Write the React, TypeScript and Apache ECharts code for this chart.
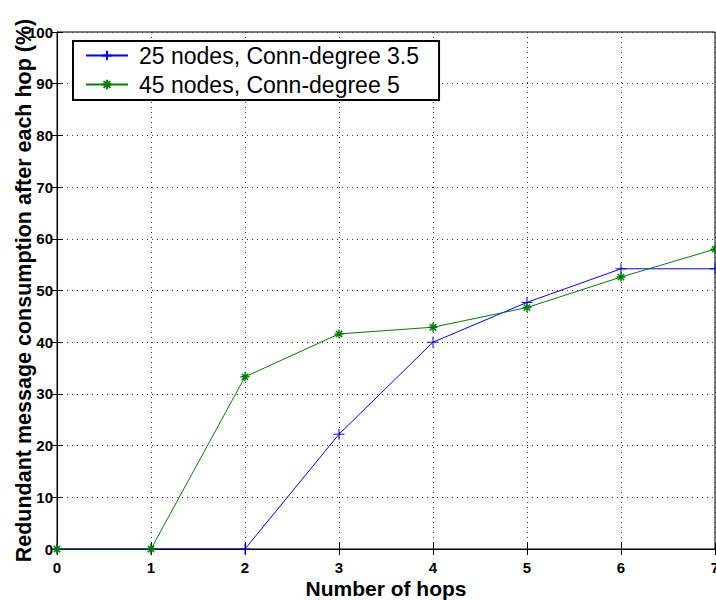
import React, { useEffect, useRef } from "react";
import * as echarts from "echarts";

const hops = [0, 1, 2, 3, 4, 5, 6, 7];
const nodes25 = [0, 0, 0, 22.2, 40.0, 47.7, 54.2, 54.2];
const nodes45 = [0, 0, 33.3, 41.6, 42.9, 46.7, 52.6, 58.0];
const seriesNames = ["25 nodes, Conn-degree 3.5", "45 nodes, Conn-degree 5"];

const FONT = "Liberation Sans, Arial, Helvetica, sans-serif";
const plusPath = "path://M5,0L5,10M0,5L10,5";
const starPath = "path://M5,0L5,10M0,5L10,5M1.5,1.5L8.5,8.5M8.5,1.5L1.5,8.5";

export default function App() {
  const ref = useRef<HTMLDivElement>(null);
  useEffect(() => {
    if (!ref.current) return;
    const chart = echarts.init(ref.current, undefined, { renderer: "svg" });
    const gridLine = { show: true, lineStyle: { color: "#333", type: [1, 4] as any, width: 1 } };
    chart.setOption({
      animation: false,
      backgroundColor: "#fff",
      grid: {
        left: 57, right: 1, top: 32, bottom: 51,
        containLabel: false, outerBoundsMode: "none",
        show: true, borderColor: "#000", borderWidth: 1, backgroundColor: "transparent",
      },
      legend: {
        orient: "vertical",
        left: 73,
        top: 41,
        padding: [3, 20, 4, 12],
        itemGap: 6,
        itemWidth: 42,
        itemHeight: 12,
        backgroundColor: "#fff",
        borderColor: "#000",
        borderWidth: 2,
        textStyle: { fontFamily: FONT, fontSize: 23, color: "#000", padding: [0, 0, 0, 6] },
        data: seriesNames,
      },
      xAxis: [
        {
          type: "value",
          min: 0,
          max: 7,
          interval: 1,
          name: "Number of hops",
          nameLocation: "middle",
          nameMoveOverlap: false,
          nameGap: 29,
          nameTextStyle: { fontFamily: FONT, fontWeight: "bold", fontSize: 21, color: "#000", verticalAlign: "top" },
          axisLine: { show: true, onZero: false, lineStyle: { color: "#000" } },
          axisTick: { show: true, inside: true, length: 6, lineStyle: { color: "#000" } },
          axisLabel: { fontFamily: FONT, fontWeight: "bold", fontSize: 15, color: "#000", margin: 11 },
          splitLine: gridLine,
        },
        {
          type: "value",
          position: "top",
          min: 0,
          max: 7,
          interval: 1,
          axisLine: { show: true, lineStyle: { color: "#000" } },
          axisTick: { show: true, inside: true, length: 6, lineStyle: { color: "#000" } },
          axisLabel: { show: false },
          splitLine: { show: false },
        },
      ],
      yAxis: [
        {
          type: "value",
          min: 0,
          max: 100,
          interval: 10,
          name: "Redundant message consumption after each hop (%)",
          nameLocation: "middle",
          nameMoveOverlap: false,
          nameGap: 22,
          nameTextStyle: { fontFamily: FONT, fontWeight: "bold", fontSize: 21.5, color: "#000" },
          axisLine: { show: true, onZero: false, lineStyle: { color: "#000" } },
          axisTick: { show: true, inside: true, length: 6, lineStyle: { color: "#000" } },
          axisLabel: { fontFamily: FONT, fontWeight: "bold", fontSize: 15, color: "#000", margin: 4 },
          splitLine: gridLine,
        },
        {
          type: "value",
          position: "right",
          min: 0,
          max: 100,
          interval: 10,
          axisLine: { show: true, lineStyle: { color: "#000" } },
          axisTick: { show: true, inside: true, length: 6, lineStyle: { color: "#000" } },
          axisLabel: { show: false },
          splitLine: { show: false },
        },
      ],
      series: [
        {
          name: seriesNames[0],
          type: "line",
          data: hops.map((h, i) => [h, nodes25[i]]),
          color: "#0000ff",
          lineStyle: { color: "#0000ff", width: 1 },
          symbol: plusPath,
          symbolSize: 11,
          showSymbol: true,
          itemStyle: { color: "rgba(0,0,0,0)", borderColor: "#0000ff", borderWidth: 1 },
          z: 3,
        },
        {
          name: seriesNames[1],
          type: "line",
          data: hops.map((h, i) => [h, nodes45[i]]),
          color: "#008000",
          lineStyle: { color: "#008000", width: 1 },
          symbol: starPath,
          symbolSize: 9,
          showSymbol: true,
          itemStyle: { color: "rgba(0,0,0,0)", borderColor: "#008000", borderWidth: 1.5 },
          z: 4,
        },
      ],
    });
    return () => chart.dispose();
  }, []);
  return <div ref={ref} style={{ position: "fixed", left: 0, top: 0, width: 716, height: 600 }} />;
}
